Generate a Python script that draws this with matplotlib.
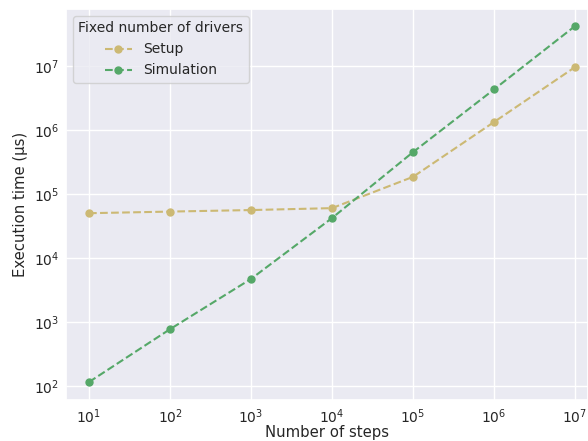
import matplotlib
matplotlib.use("Agg")
import matplotlib.pyplot as plt
import seaborn as sns

steps = [1e1, 1e2, 1e3, 1e4, 1e5, 1e6, 1e7]
time_ticks = [1e2, 1e3, 1e4, 1e5, 1e6, 1e7]
setup_us = [5.0e4, 5.3e4, 5.6e4, 6.0e4, 1.85e5, 1.33e6, 9.6e6]
simulation_us = [115, 770, 4.7e3, 4.2e4, 4.5e5, 4.3e6, 4.2e7]

sns.set_theme(style="darkgrid")
plt.rcParams["font.family"] = ["DejaVu Sans"]
palette = sns.color_palette("deep")

fig = plt.figure(figsize=(5.88, 4.41), dpi=100)
ax = fig.add_axes([66 / 588, 1 - 400 / 441, (588 - 66) / 588, (400 - 9) / 441])

ax.plot(steps, setup_us, "o--", color=palette[8], label="Setup", markersize=5, linewidth=1.5)
ax.plot(steps, simulation_us, "o--", color=palette[2], label="Simulation", markersize=5, linewidth=1.5)

ax.set_xscale("log")
ax.set_yscale("log")
ax.set_xlim(10 ** 0.716, 10 ** 7.16)
ax.set_ylim(10 ** 1.78, 10 ** 7.89)
ax.set_xticks(steps)
ax.set_yticks(time_ticks)
ax.minorticks_off()
ax.tick_params(labelsize=10, length=0, pad=5)

ax.set_xlabel("Number of steps", fontsize=10.7, labelpad=-0.5)
ax.set_ylabel("Execution time (µs)", fontsize=10.7, labelpad=4)
ax.legend(title="Fixed number of drivers", loc="upper left", fontsize=10,
          title_fontsize=10)

fig.savefig("out.png", dpi=100)
